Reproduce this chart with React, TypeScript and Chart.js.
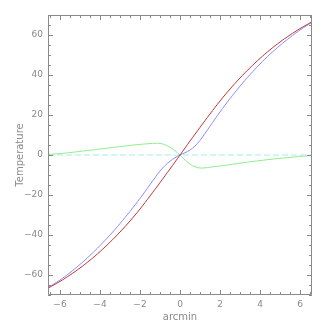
import React, { useEffect, useRef } from "react";
import { Chart, registerables } from "chart.js";

Chart.register(...registerables);

// ---- data ----
const xs = [-6.6, -6, -5.5, -5, -4.5, -4, -3.5, -3, -2.5, -2, -1.5, -1.25, -1, -0.75, -0.5, -0.25, 0, 0.25, 0.5, 0.75, 1, 1.25, 1.5, 2, 2.5, 3, 3.5, 4, 4.5, 5, 5.5, 6, 6.6];
const redSeries = [-66.6, -63.2, -60, -56.5, -52.6, -48.3, -43.6, -38.5, -33, -27, -20.5, -17.2, -13.8, -10.4, -7, -3.5, 0, 3.5, 7, 10.4, 13.8, 17.2, 20.5, 27, 33, 38.5, 43.6, 48.3, 52.6, 56.5, 60, 63.2, 66.6];
const blueSeries = [-66.3, -62.5, -58.8, -54.7, -50.2, -45.3, -40, -34.3, -28.2, -21.7, -14.8, -11.35, -8.0, -5.3, -3.1, -1.4, 0, 1.1, 2.5, 4.5, 7.3, 10.8, 14.4, 21.5, 28.2, 34.4, 40.2, 45.5, 50.4, 54.8, 58.8, 62.5, 66.3];
const greenSeries = [0.3, 0.7, 1.2, 1.8, 2.4, 3.0, 3.6, 4.2, 4.8, 5.3, 5.7, 5.85, 5.8, 5.1, 3.9, 2.1, 0, -2.4, -4.5, -5.9, -6.5, -6.4, -6.1, -5.5, -4.8, -4.1, -3.4, -2.8, -2.2, -1.7, -1.2, -0.7, -0.3];
const zeroLineX = [-6.6, 6.6];
const zeroLineY = [0, 0];

const xTicks = [-6, -4, -2, 0, 2, 4, 6];
const yTicks = [-60, -40, -20, 0, 20, 40, 60];
const xRange = [-6.6, 6.6];
const yRange = [-70, 70];
const xMinorStep = 0.5;
const yMinorStep = 5;

const AXIS = "#8a8a8a";
const FONT = { family: "DejaVu Sans", size: 9 };

const fmt = (v: number) => (v < 0 ? "\u2212" + Math.abs(v) : String(v));
const pts = (xv: number[], yv: number[]) => xv.map((x, i) => ({ x, y: yv[i] }));

const framePlugin = {
  id: "idlFrame",
  afterDatasetsDraw(chart: any) {
    const { ctx, chartArea } = chart;
    const { left, right, top, bottom } = chartArea;
    const xs_ = chart.scales.x;
    const ys_ = chart.scales.y;
    ctx.save();
    ctx.strokeStyle = AXIS;
    ctx.lineWidth = 1;
    ctx.beginPath();
    ctx.rect(left + 0.5, top + 0.5, right - left - 1, bottom - top - 1);
    ctx.stroke();
    ctx.beginPath();
    const isMajor = (v: number, arr: number[]) => arr.some((m) => Math.abs(m - v) < 1e-6);
    const x0 = Math.ceil(xRange[0] / xMinorStep) * xMinorStep;
    for (let v = x0; v <= xRange[1] + 1e-9; v += xMinorStep) {
      const len = isMajor(v, xTicks) ? 5 : 3;
      const px = Math.round(xs_.getPixelForValue(v)) + 0.5;
      ctx.moveTo(px, bottom);
      ctx.lineTo(px, bottom - len);
      ctx.moveTo(px, top);
      ctx.lineTo(px, top + len);
    }
    const y0 = Math.ceil(yRange[0] / yMinorStep) * yMinorStep;
    for (let v = y0; v <= yRange[1] + 1e-9; v += yMinorStep) {
      const len = isMajor(v, yTicks) ? 5 : 3;
      const py = Math.round(ys_.getPixelForValue(v)) + 0.5;
      ctx.moveTo(left, py);
      ctx.lineTo(left + len, py);
      ctx.moveTo(right, py);
      ctx.lineTo(right - len, py);
    }
    ctx.stroke();
    ctx.restore();
  },
};

export default function App() {
  const ref = useRef<HTMLCanvasElement>(null);
  useEffect(() => {
    if (!ref.current) return;
    const line = (label: string, xv: number[], yv: number[], color: string, extra: any = {}) => ({
      label,
      data: pts(xv, yv),
      borderColor: color,
      borderWidth: 1,
      pointRadius: 0,
      fill: false,
      tension: 0.4,
      ...extra,
    });
    const chart = new Chart(ref.current, {
      type: "line",
      data: {
        datasets: [
          line("model", xs, redSeries, "#c03535"),
          line("observed", xs, blueSeries, "#8c8cff"),
          line("difference", xs, greenSeries, "#8cee8c"),
          line("zero", zeroLineX, zeroLineY, "#a6eee4", { borderDash: [6, 3], tension: 0 }),
        ],
      },
      plugins: [framePlugin],
      options: {
        animation: false,
        responsive: false,
        devicePixelRatio: 1,
        layout: { padding: { left: 0, right: 15, top: 15, bottom: 0 } },
        plugins: { legend: { display: false }, tooltip: { enabled: false } },
        scales: {
          x: {
            type: "linear",
            min: xRange[0],
            max: xRange[1],
            afterBuildTicks: (s: any) => {
              s.ticks = xTicks.map((value) => ({ value }));
            },
            afterFit: (s: any) => {
              s.height = 32;
            },
            grid: { display: false, drawTicks: false },
            border: { display: false },
            ticks: {
              autoSkip: false,
              maxRotation: 0,
              padding: 4,
              color: AXIS,
              font: FONT,
              callback: (v: any) => fmt(Number(v)),
            },
            title: { display: true, text: "arcmin", color: AXIS, font: { ...FONT, size: 10 }, padding: { top: 0, bottom: 4 } },
          },
          y: {
            type: "linear",
            min: yRange[0],
            max: yRange[1],
            afterBuildTicks: (s: any) => {
              s.ticks = yTicks.map((value) => ({ value }));
            },
            afterFit: (s: any) => {
              s.width = 48;
            },
            grid: { display: false, drawTicks: false },
            border: { display: false },
            ticks: {
              autoSkip: false,
              padding: 5,
              color: AXIS,
              font: FONT,
              callback: (v: any) => fmt(Number(v)),
            },
            title: { display: true, text: "Temperature", color: AXIS, font: { ...FONT, size: 10 }, padding: { top: 14, bottom: 0 } },
          },
        },
      } as any,
    });
    return () => chart.destroy();
  }, []);
  return (
    <div style={{ position: "fixed", left: 0, top: 0, width: 327, height: 327, background: "#fff" }}>
      <canvas ref={ref} width={327} height={327} style={{ display: "block" }} />
    </div>
  );
}
